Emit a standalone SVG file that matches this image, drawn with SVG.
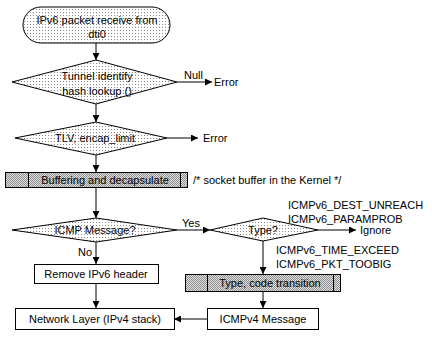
<svg xmlns="http://www.w3.org/2000/svg" width="432" height="341" viewBox="0 0 432 341">
<defs>
<pattern id="dots" width="3" height="3" patternUnits="userSpaceOnUse"><rect width="3" height="3" fill="#fff"/><rect width="1" height="1" fill="#888"/></pattern>
<pattern id="dither" width="2" height="2" patternUnits="userSpaceOnUse"><rect width="2" height="2" fill="#e4e4e4"/><rect width="1" height="1" fill="#8a8a8a"/><rect x="1" y="1" width="1" height="1" fill="#8a8a8a"/></pattern>
<marker id="ah" viewBox="0 0 10 10" refX="10" refY="5" markerWidth="7" markerHeight="7" markerUnits="userSpaceOnUse" orient="auto"><path d="M0,0 L10,5 L0,10 z" fill="#000"/></marker>
</defs>
<style>
text{font-family:"Liberation Sans",Arial,sans-serif;font-size:11px;fill:#000}
.c{text-anchor:middle}
.sh{stroke:#000;stroke-width:1}
.lt{fill:url(#dots)}
.dk{fill:url(#dither)}
.wh{fill:#fff}
.ln{fill:none;stroke:#000;stroke-width:1;marker-end:url(#ah)}
</style>
<rect width="432" height="341" fill="#fff"/>
<g id="connectors">
<path class="ln" d="M96,43 V60"/>
<path class="ln" d="M177,82 H212"/>
<path class="ln" d="M96,104 V122"/>
<path class="ln" d="M167,138 H198"/>
<path class="ln" d="M96,155 V172"/>
<path class="ln" d="M96,187 V218"/>
<path class="ln" d="M177,230 H210"/>
<path class="ln" d="M318,230 H356"/>
<path class="ln" d="M96,242 V264"/>
<path class="ln" d="M263,241 V274"/>
<path class="ln" d="M96,283 V308"/>
<path class="ln" d="M263,292 V308"/>
<path class="ln" d="M207,319 H174"/>
<text x="184" y="79">Null</text>
<text x="214" y="86">Error</text>
<text x="203" y="142">Error</text>
<text x="182" y="227">Yes</text>
<text x="360" y="234">Ignore</text>
<text x="78" y="256">No</text>
</g>
<g id="start">
<rect class="sh lt" x="23" y="7" width="147" height="36" rx="18"/>
<text class="c" x="97" y="24">IPv6 packet receive from</text>
<text class="c" x="97" y="38">dti0</text>
</g>
<g id="tunnel">
<polygon class="sh lt" points="12,82 96,60 177,82 96,104"/>
<text class="c" x="97" y="80">Tunnel identify</text>
<text class="c" x="97" y="95">hash lookup ()</text>
</g>
<g id="tlv">
<polygon class="sh lt" points="15,138 96,122 167,138 96,155"/>
<text class="c" x="95" y="142">TLV, encap_limit</text>
</g>
<g id="buffering">
<rect class="sh dk" x="5.5" y="172.5" width="182" height="15"/>
<path class="sh" d="M28.5,172.5 V187.5 M180.5,172.5 V187.5"/>
<text class="c" x="105" y="184">Buffering and decapsulate</text>
<text x="193" y="184">/* socket buffer in the Kernel */</text>
</g>
<g id="icmp">
<polygon class="sh lt" points="12,230 96,218 177,230 96,242"/>
<text class="c" x="95" y="234">ICMP Message?</text>
</g>
<g id="type">
<polygon class="sh lt" points="210,230 263,218 318,230 263,241"/>
<text class="c" x="263" y="234">Type?</text>
<text x="288" y="209">ICMPv6_DEST_UNREACH</text>
<text x="288" y="223">ICMPv6_PARAMPROB</text>
<text x="276" y="254">ICMPv6_TIME_EXCEED</text>
<text x="276" y="268">ICMPv6_PKT_TOOBIG</text>
</g>
<g id="remove">
<rect class="sh wh" x="34.5" y="264.5" width="124" height="19"/>
<text class="c" x="96" y="278">Remove IPv6 header</text>
</g>
<g id="transition">
<rect class="sh dk" x="185.5" y="274.5" width="155" height="17"/>
<path class="sh" d="M207.5,274.5 V291.5 M333.5,274.5 V291.5"/>
<text class="c" x="270" y="287">Type, code transition</text>
</g>
<g id="icmpv4">
<rect class="sh wh" x="207.5" y="308.5" width="111" height="21"/>
<text class="c" x="263" y="323">ICMPv4 Message</text>
</g>
<g id="network">
<rect class="sh wh" x="15.5" y="308.5" width="159" height="21"/>
<text class="c" x="95" y="323">Network Layer (IPv4 stack)</text>
</g>
</svg>
